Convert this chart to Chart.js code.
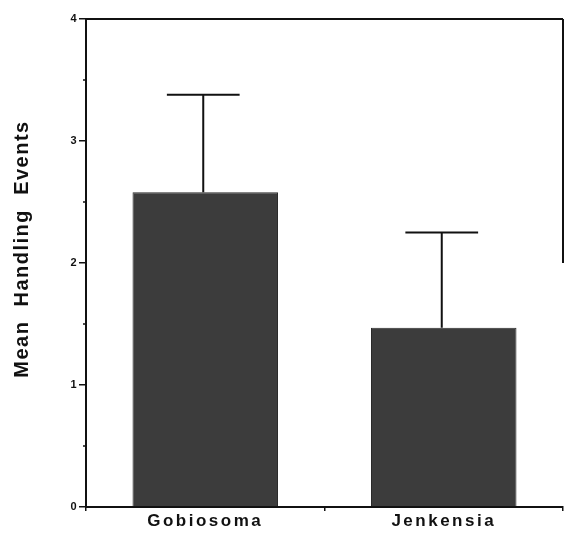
<!DOCTYPE html>
<html>
<head>
<meta charset="utf-8">
<script src="https://cdn.jsdelivr.net/npm/chart.js@4.4.1/dist/chart.umd.min.js"></script>
<style>
  html, body { margin: 0; padding: 0; background: #fff; }
  #wrap { width: 565px; height: 535px; }
</style>
</head>
<body>
<div id="wrap"><canvas id="chart"></canvas></div>
<script>
// ─── Data ─────────────────────────────────────────────────────────────────────
const categories = ["Gobiosoma", "Jenkensia"];
const means = [2.58, 1.47];
const errors = [0.80, 0.78];          // upper error bar length
const yTicks = [0, 1, 2, 3, 4];
const minorTicks = [0.5, 1.5, 2.5, 3.5];
const yTitle = "Mean  Handling  Events";

const INK = "#111";
const FONT = "'Liberation Sans', Arial, Helvetica, sans-serif";

// ─── Plugins ──────────────────────────────────────────────────────────────────
const spacing = {
    id: "spacing",
    beforeDraw(chart) {
        chart.ctx.letterSpacing = "2.5px";
    },
};

const errorBars = {
    id: "errorBars",
    afterDatasetsDraw(chart) {
        const { ctx, scales: { y } } = chart;
        const meta = chart.getDatasetMeta(0);
        ctx.save();
        ctx.strokeStyle = INK;
        ctx.lineWidth = 2;
        meta.data.forEach((bar, i) => {
            const top = y.getPixelForValue(means[i] + errors[i]);
            const half = bar.width / 4;
            ctx.beginPath();
            ctx.moveTo(bar.x - 2, bar.y);
            ctx.lineTo(bar.x - 2, top);
            ctx.moveTo(bar.x - 2 - half, top);
            ctx.lineTo(bar.x - 2 + half, top);
            ctx.stroke();
        });
        ctx.restore();
    },
};

const frame = {
    id: "frame",
    afterDraw(chart) {
        const { ctx, chartArea: a, scales: { y } } = chart;
        ctx.save();
        ctx.strokeStyle = INK;
        ctx.lineWidth = 2;
        ctx.beginPath();
        ctx.moveTo(a.left, a.top);
        ctx.lineTo(a.right, a.top);
        ctx.moveTo(a.right, a.top);
        ctx.lineTo(a.right, y.getPixelForValue(2.0));
        ctx.stroke();
        // minor ticks on the value axis
        ctx.lineWidth = 1.5;
        ctx.beginPath();
        minorTicks.forEach((v) => {
            const py = y.getPixelForValue(v);
            ctx.moveTo(a.left - 3, py);
            ctx.lineTo(a.left, py);
        });
        ctx.stroke();
        // value axis title
        ctx.translate(22, (a.top + a.bottom) / 2 - 14);
        ctx.rotate(-Math.PI / 2);
        ctx.letterSpacing = "1.5px";
        ctx.fillStyle = INK;
        ctx.font = `bold 20px ${FONT}`;
        ctx.textAlign = "center";
        ctx.textBaseline = "middle";
        ctx.fillText(yTitle, 0, 0);
        ctx.restore();
    },
};

// ─── Chart ────────────────────────────────────────────────────────────────────
new Chart(document.getElementById("chart"), {
    type: "bar",
    data: {
        labels: categories,
        datasets: [{
            data: means,
            backgroundColor: "#3c3c3c",
            borderColor: "#2a2a2a",
            borderWidth: 1,
            barPercentage: 0.61,
            categoryPercentage: 1,
        }],
    },
    options: {
        responsive: true,
        maintainAspectRatio: false,
        animation: false,
        layout: { padding: { top: 19, right: 2, left: 0, bottom: 0 } },
        plugins: { legend: { display: false }, tooltip: { enabled: false } },
        scales: {
            x: {
                offset: true,
                grid: { display: true, drawOnChartArea: false, offset: true, tickLength: 4, color: INK, lineWidth: 1.5 },
                border: { color: INK, width: 2 },
                ticks: { color: INK, padding: 0, font: { family: FONT, size: 17, weight: "bold" } },
                afterFit: (s) => { s.height = 28; },
            },
            y: {
                min: 0,
                max: 4,
                afterBuildTicks: (s) => { s.ticks = yTicks.map((v) => ({ value: v })); },
                grid: { display: true, drawOnChartArea: false, tickLength: 7, color: INK, lineWidth: 1.5 },
                border: { color: INK, width: 2 },
                ticks: { color: INK, padding: 0, font: { family: FONT, size: 11, weight: "bold" } },
                afterFit: (s) => { s.width = 86; },
            },
        },
    },
    plugins: [spacing, errorBars, frame],
});
</script>
</body>
</html>
